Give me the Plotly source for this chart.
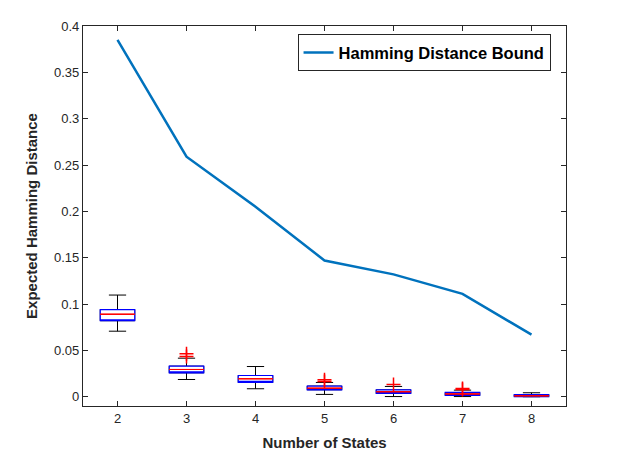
import plotly.graph_objects as go

states = [2, 3, 4, 5, 6, 7, 8]
bound = [0.385, 0.259, 0.205, 0.147, 0.132, 0.111, 0.067]

# box plot stats
q1 = [0.082, 0.0258, 0.0154, 0.0075, 0.0035, 0.0014, 0.0002]
med = [0.089, 0.0294, 0.0194, 0.0092, 0.0054, 0.0030, 0.0010]
q3 = [0.094, 0.0330, 0.0229, 0.0115, 0.0075, 0.0046, 0.0022]
lo = [0.0707, 0.0186, 0.0086, 0.0025, 0.0002, 0.0002, 0.0000]
hi = [0.1097, 0.0416, 0.0326, 0.0154, 0.0111, 0.0071, 0.0043]

out_x = [3, 3, 5, 5, 6, 7, 7]
out_y = [0.0435, 0.0465, 0.0165, 0.0183, 0.0132, 0.0078, 0.0089]

ax_col = '#262626'
fig = go.Figure()

# whiskers (black)
fig.add_trace(go.Box(x=states, q1=q1, median=med, q3=q3, lowerfence=lo, upperfence=hi,
                     width=0.5, whiskerwidth=0.5, line=dict(color='black', width=1),
                     fillcolor='white', boxpoints=False, showlegend=False, hoverinfo='skip'))
# box (blue)
fig.add_trace(go.Box(x=states, q1=q1, median=q1, q3=q3, lowerfence=q1, upperfence=q3,
                     width=0.5, whiskerwidth=0, line=dict(color='blue', width=1.2),
                     fillcolor='white', boxpoints=False, showlegend=False, hoverinfo='skip'))
# median (red)
fig.add_trace(go.Box(x=states, q1=med, median=med, q3=med, lowerfence=med, upperfence=med,
                     width=0.5, whiskerwidth=0, line=dict(color='red', width=1),
                     fillcolor='rgba(0,0,0,0)', boxpoints=False, showlegend=False, hoverinfo='skip'))

fig.add_trace(go.Scatter(x=out_x, y=out_y, mode='markers', showlegend=False,
                         marker=dict(symbol='cross-thin', size=10,
                                     line=dict(color='red', width=1.5))))

fig.add_trace(go.Scatter(x=states, y=bound, mode='lines', name='Hamming Distance Bound',
                         line=dict(color='#0072BD', width=2.5)))

# page body has an 8px margin, so the figure is shrunk by that much
fig.update_layout(
    width=615, height=459,
    margin=dict(l=75, r=57, t=18, b=61),
    paper_bgcolor='white', plot_bgcolor='white',
    boxmode='overlay',
    font=dict(family='Liberation Sans, Arial, sans-serif', size=13, color=ax_col),
    legend=dict(x=0.968, y=0.978, xanchor='right', yanchor='top',
                bordercolor=ax_col, borderwidth=1, bgcolor='white',
                font=dict(size=16.5, color='black', weight='bold')),
    xaxis=dict(range=[1.5, 8.5], tickvals=states, ticks='inside', ticklen=5,
               mirror='ticks', showline=True, linecolor=ax_col, linewidth=1.3,
               showgrid=False, zeroline=False, tickcolor=ax_col, automargin=False,
               title=dict(text='<b>Number of States</b>', font=dict(size=15, color=ax_col),
                          standoff=12)),
    yaxis=dict(range=[-0.01, 0.4], dtick=0.05, tick0=0, ticks='inside', ticklen=5,
               mirror='ticks', showline=True, linecolor=ax_col, linewidth=1.3,
               showgrid=False, zeroline=False, tickcolor=ax_col, automargin=False,
               title=dict(text='<b>Expected Hamming Distance</b>', font=dict(size=15, color=ax_col),
                          standoff=12)),
)

fig.write_html("out.html")
